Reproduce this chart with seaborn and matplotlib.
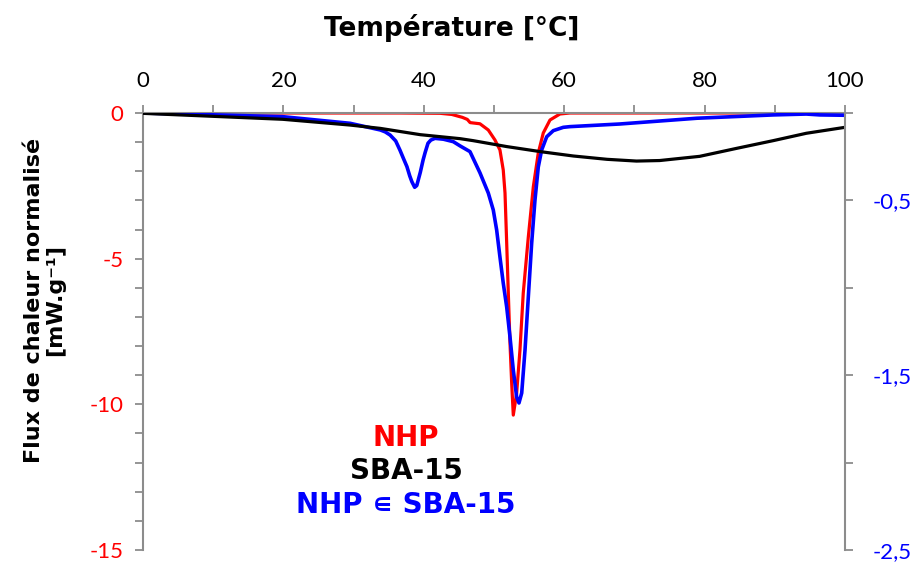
import matplotlib
matplotlib.use("Agg")
import matplotlib.pyplot as plt
from matplotlib.ticker import MultipleLocator, FixedLocator, FuncFormatter
import seaborn as sns

# NHP (left axis, mW/g)
nhp_t = [0, 36.6, 42.3, 44.0, 45.5, 46.2, 46.6, 48.0, 49.19, 50.14, 50.85, 51.32, 51.57,
         51.81, 52.04, 52.28, 52.52, 52.75, 53.23, 53.70, 54.17, 54.89, 55.60, 56.31,
         57.02, 57.98, 59.40, 60.83, 100]
nhp_v = [0, 0, -0.01, -0.05, -0.15, -0.22, -0.33, -0.37, -0.584, -0.927, -1.270, -1.957,
         -2.746, -4.463, -6.179, -7.896, -9.269, -10.37, -9.612, -8.136, -6.179, -4.257,
         -2.540, -1.373, -0.687, -0.240, -0.034, 0.0, 0.0]

# NHP in SBA-15 (right axis)
mix_t = [0, 19.9, 29.5, 33.8, 34.5, 35.2, 36.0, 36.6, 37.1, 37.6, 38.0, 38.3, 38.7, 39.0,
         39.5, 39.9, 40.2, 40.6, 41.0, 41.6, 42.8, 44.2, 45.2, 46.58, 48.01, 49.19, 49.90,
         50.38, 50.85, 51.32, 51.81, 52.28, 52.75, 53.23, 53.56, 53.95, 54.42, 54.89,
         55.37, 55.84, 56.31, 56.79, 57.51, 58.45, 59.87, 60.83, 67.9, 78.9, 89.8, 94.5,
         96.4, 100]
mix_v = [0.0, -0.021, -0.059, -0.097, -0.108, -0.126, -0.160, -0.212, -0.260, -0.307,
         -0.360, -0.393, -0.425, -0.415, -0.340, -0.269, -0.225, -0.173, -0.155, -0.145,
         -0.150, -0.164, -0.189, -0.221, -0.343, -0.458, -0.555, -0.669, -0.824, -0.973,
         -1.110, -1.281, -1.470, -1.625, -1.659, -1.602, -1.356, -1.053, -0.744, -0.498,
         -0.309, -0.212, -0.136, -0.101, -0.082, -0.078, -0.063, -0.030, -0.011, -0.006,
         -0.011, -0.013]

# SBA-15 (right axis)
sba_t = [0, 19.9, 29.5, 33.8, 39.5, 45.2, 47.0, 51.8, 56.6, 61.3, 66.1, 70.3, 73.6,
         79.3, 84.6, 89.8, 94.5, 100]
sba_v = [-0.002, -0.036, -0.069, -0.088, -0.124, -0.147, -0.158, -0.192, -0.221, -0.246,
         -0.265, -0.275, -0.272, -0.248, -0.202, -0.158, -0.116, -0.082]

x_ticks = [0, 20, 40, 60, 80, 100]
left_ticks = [0, -5, -10, -15]
right_ticks = [-0.5, -1.5, -2.5]

sns.set_style("white")
plt.rcParams['font.family'] = ['Lato', 'DejaVu Sans']
plt.rcParams['axes.unicode_minus'] = False
plt.rcParams['text.color'] = 'black'

fig = plt.figure(figsize=(9.12, 5.63), dpi=100)
ax = fig.add_axes([0.1568, 0.0231, 0.9265 - 0.1568, 0.7993 - 0.0231])
ax2 = ax.twinx()

gray = "#8c8c8c"
line_kw = dict(sort=False, solid_joinstyle="round", solid_capstyle="round")

sns.lineplot(x=nhp_t, y=nhp_v, ax=ax, color="#ff0000", lw=2.3, **line_kw)
sns.lineplot(x=mix_t, y=mix_v, ax=ax2, color="#0000ff", lw=2.6, **line_kw)
sns.lineplot(x=sba_t, y=sba_v, ax=ax2, color="black", lw=2.3, **line_kw)

ax.set_xlim(0, 100)
ax.set_ylim(-15, 0)
ax2.set_ylim(-2.5, 0)

ax.xaxis.tick_top()
ax.xaxis.set_major_locator(FixedLocator(x_ticks))
ax.xaxis.set_minor_locator(MultipleLocator(10))
ax.yaxis.set_major_locator(FixedLocator(left_ticks))
ax.yaxis.set_minor_locator(MultipleLocator(1))
ax2.yaxis.set_major_locator(FixedLocator(right_ticks))
ax2.yaxis.set_minor_locator(FixedLocator([0, -1, -2]))
ax2.yaxis.set_major_formatter(FuncFormatter(lambda v, p: f"{v:.1f}".replace(".", ",")))

for a in (ax, ax2):
    for s in a.spines.values():
        s.set_visible(False)
    a.set_xlabel("")
    a.set_ylabel("")
ax.spines["top"].set_visible(True)
ax.spines["left"].set_visible(True)
ax2.spines["right"].set_visible(True)
for a, s in ((ax, "top"), (ax, "left"), (ax2, "right")):
    a.spines[s].set_color(gray)
    a.spines[s].set_linewidth(1.5)

ax.tick_params(axis="x", which="both", top=True, bottom=False, direction="out",
               length=6, width=1.3, color=gray, labelsize=16, pad=10, labelcolor="black")
ax.tick_params(axis="y", which="both", left=True, direction="out", length=6, width=1.3,
               color=gray, labelsize=16, labelcolor="#ff0000", pad=8)
ax2.tick_params(axis="y", which="both", right=True, direction="out", length=6, width=1.3,
                color=gray, labelsize=16, labelcolor="#0000ff", pad=14)

fig.text(0.4956, 0.950, "Température [°C]", ha="center", va="center",
         fontsize=19, fontweight="bold", family=["DejaVu Sans"])
fig.text(0.049, 0.467, "Flux de chaleur normalisé\n[mW.g⁻¹]", ha="center", va="center",
         rotation=90, multialignment="center", fontsize=16, fontweight="bold",
         family=["DejaVu Sans"], linespacing=1.1)

lx = 406 / 912
ax.text(lx, 1 - 438 / 563, "NHP", transform=fig.transFigure, ha="center", va="center",
        color="#ff0000", fontsize=20, fontweight="bold", family=["DejaVu Sans"])
ax.text(lx, 1 - 471 / 563, "SBA-15", transform=fig.transFigure, ha="center", va="center",
        color="black", fontsize=20, fontweight="bold", family=["DejaVu Sans"])
ax.text(lx, 1 - 505 / 563, "NHP ∊ SBA-15", transform=fig.transFigure, ha="center", va="center",
        color="#0000ff", fontsize=20, fontweight="bold", family=["DejaVu Sans"])

plt.savefig("out.png", dpi=100)
plt.close(fig)
